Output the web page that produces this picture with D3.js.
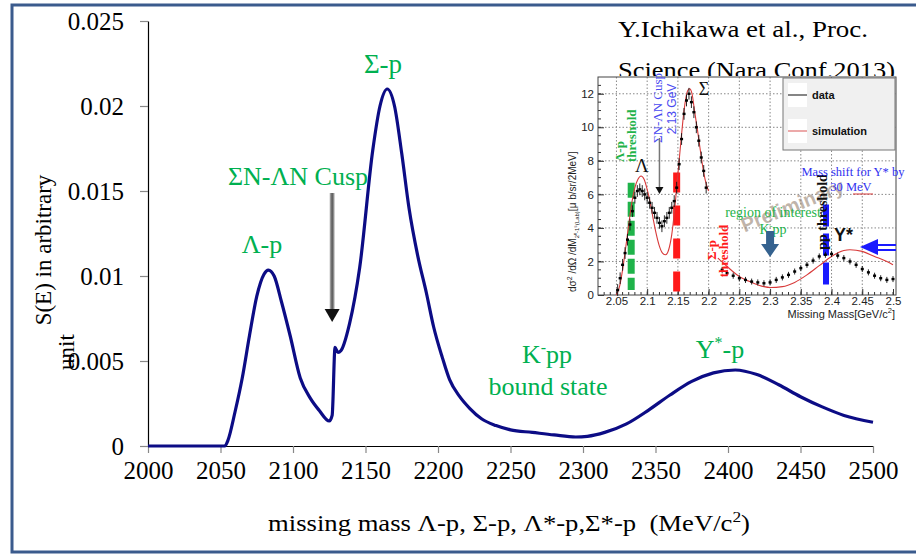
<!DOCTYPE html>
<html>
<head>
<meta charset="utf-8">
<script src="https://cdn.jsdelivr.net/npm/d3@7"></script>
<style>
  html, body { margin: 0; padding: 0; background: #fff; }
  svg { display: block; }
</style>
</head>
<body>
<svg id="chart" width="916" height="556"></svg>
<script>
// ---- Main spectrum: S(E) versus missing mass (MeV/c^2) ----
const massMeV = [2000, 2053, 2055, 2060, 2065, 2070, 2075, 2080, 2083, 2087, 2092, 2098, 2105, 2112,
  2118, 2125, 2127, 2129, 2131, 2133, 2139, 2146, 2155, 2160, 2165, 2170, 2175, 2180, 2186, 2192,
  2197, 2203, 2208, 2215, 2222, 2230, 2240, 2250, 2265, 2280, 2295, 2303, 2315, 2330, 2345, 2360,
  2375, 2390, 2405, 2420, 2435, 2450, 2465, 2480, 2500];
const strength = [0, 0, 0.0003, 0.0020, 0.0040, 0.0065, 0.0088, 0.0101, 0.01035, 0.0100, 0.0085,
  0.0065, 0.0040, 0.0028, 0.0021, 0.00147, 0.0018, 0.0058, 0.0055, 0.0056, 0.0072, 0.0105, 0.0174,
  0.0200, 0.0210, 0.0200, 0.0172, 0.0140, 0.0112, 0.0090, 0.0070, 0.0052, 0.0039, 0.0029, 0.0022,
  0.0016, 0.0012, 0.00095, 0.0008, 0.00065, 0.00053, 0.00057, 0.0008, 0.0013, 0.0021, 0.0030,
  0.0038, 0.0043, 0.00447, 0.0042, 0.0036, 0.0029, 0.0023, 0.0018, 0.0014];

const xTickValues = [2000, 2050, 2100, 2150, 2200, 2250, 2300, 2350, 2400, 2450, 2500];
const xTickLabels = ["2000", "2050", "2100", "2150", "2200", "2250", "2300", "2350", "2400", "2450", "2500"];
const yTickValues = [0, 0.005, 0.01, 0.015, 0.02, 0.025];
const yTickLabels = ["0", "0.005", "0.01", "0.015", "0.02", "0.025"];

// ---- Inset: measured spectrum and simulation (GeV/c^2, ub/sr/2MeV) ----
const simMassA = [2.05, 2.055, 2.06, 2.065, 2.07, 2.075, 2.08, 2.085, 2.09, 2.095, 2.1, 2.105, 2.11,
  2.115, 2.12, 2.125, 2.13, 2.135, 2.14, 2.145, 2.15, 2.155, 2.16, 2.165, 2.169, 2.173, 2.177, 2.182,
  2.187, 2.192, 2.197, 2.2];
const simValA = [0, 0.5, 1.5, 2.8, 4.2, 5.5, 6.4, 6.9, 7.1, 6.9, 6.3, 5.5, 4.5, 3.6, 2.9, 2.5, 2.4,
  2.7, 3.6, 5.2, 7.2, 9.2, 11.0, 12.1, 12.3, 12.0, 11.0, 9.8, 8.5, 7.3, 6.5, 6.2];
const simMassB = [2.215, 2.23, 2.25, 2.27, 2.29, 2.3, 2.32, 2.34, 2.36, 2.38, 2.4, 2.42, 2.43, 2.45,
  2.47, 2.49, 2.5];
const simValB = [2.2, 1.7, 1.1, 0.75, 0.5, 0.45, 0.5, 0.75, 1.2, 1.75, 2.3, 2.65, 2.7, 2.6, 2.3, 2.0, 1.8];

const dataMassA = [2.052, 2.056, 2.06, 2.064, 2.068, 2.072, 2.076, 2.08, 2.084, 2.088, 2.092, 2.096,
  2.1, 2.104, 2.108, 2.112, 2.116, 2.12, 2.124, 2.128, 2.132, 2.136, 2.14, 2.144, 2.148, 2.152, 2.156,
  2.16, 2.164, 2.168, 2.172, 2.176, 2.18, 2.184, 2.188, 2.192, 2.196];
const dataValA = [0.3, 1.0, 1.8, 2.5, 3.3, 4.2, 5.0, 5.8, 6.2, 6.3, 6.2, 6.0, 5.8, 5.5, 5.2, 4.9, 4.6,
  4.3, 4.1, 4.4, 4.6, 4.9, 5.2, 5.6, 6.4, 7.8, 9.3, 10.8, 11.6, 12.0, 11.5, 10.9, 10.0, 9.2, 8.2, 7.4, 6.4];
const dataMassB = [2.222, 2.23, 2.24, 2.25, 2.26, 2.27, 2.28, 2.29, 2.3, 2.31, 2.32, 2.33, 2.34, 2.35,
  2.36, 2.37, 2.38, 2.39, 2.4, 2.41, 2.42, 2.43, 2.44, 2.45, 2.46, 2.47, 2.48, 2.49, 2.5];
const dataValB = [1.5, 1.3, 1.15, 1.0, 0.9, 0.8, 0.75, 0.7, 0.75, 0.9, 1.05, 1.2, 1.4, 1.6, 1.8, 2.05,
  2.3, 2.4, 2.45, 2.35, 2.2, 2.0, 1.8, 1.55, 1.35, 1.15, 1.0, 0.9, 0.95];
const dataErrA = 0.35;
const dataErrB = 0.18;

const insetXTicks = [2.05, 2.1, 2.15, 2.2, 2.25, 2.3, 2.35, 2.4, 2.45, 2.5];
const insetXLabels = ["2.05", "2.1", "2.15", "2.2", "2.25", "2.3", "2.35", "2.4", "2.45", "2.5"];
const insetYTicks = [0, 2, 4, 6, 8, 10, 12];
const insetYLabels = ["0", "2", "4", "6", "8", "10", "12"];

// threshold markers in the inset (GeV/c^2)
const lambdaThreshold = 2.074;
const sigmaThreshold = 2.148;
const ppThreshold = 2.391;
const cuspMass = 2.12;
const kppMass = 2.30;

const SERIF = "'Liberation Serif', 'Times New Roman', serif";
const SANS = "'Liberation Sans', Arial, sans-serif";
const GREEN = "#00b050";

const svg = d3.select("#chart");

// page frame
svg.append("path")
  .attr("d", "M916,5H12V552H916")
  .attr("fill", "none").attr("stroke", "#3b5b8d").attr("stroke-width", 3);

// ---------------- main chart ----------------
const x = d3.scaleLinear().domain([2000, 2500]).range([148, 873]);
const y = d3.scaleLinear().domain([0, 0.025]).range([446, 21]);

const yAxis = svg.append("g").attr("transform", "translate(148,0)")
  .call(d3.axisLeft(y).tickValues(yTickValues).tickSize(8).tickSizeOuter(0).tickPadding(16)
    .tickFormat((d, i) => yTickLabels[i]));
yAxis.select(".domain").attr("stroke", "#000").attr("stroke-width", 1.2);
yAxis.selectAll(".tick line").attr("stroke", "#888").attr("stroke-width", 1.2);
yAxis.selectAll(".tick text").attr("font-family", SERIF).attr("font-size", 25).attr("fill", "#000");

const xAxis = svg.append("g").attr("transform", "translate(0,446)")
  .call(d3.axisBottom(x).tickValues(xTickValues).tickSize(7).tickSizeOuter(0).tickPadding(8)
    .tickFormat((d, i) => xTickLabels[i]));
xAxis.select(".domain").attr("stroke", "#000").attr("stroke-width", 1.2);
xAxis.selectAll(".tick line").attr("stroke", "#888").attr("stroke-width", 1.2);
xAxis.selectAll(".tick text").attr("font-family", SERIF).attr("font-size", 25).attr("fill", "#000");

// spectrum curve
const line = d3.line().x((d, i) => x(massMeV[i])).y(d => y(d)).curve(d3.curveMonotoneX);
svg.append("path").datum(strength)
  .attr("d", line)
  .attr("fill", "none").attr("stroke", "#0c0c85").attr("stroke-width", 3.2)
  .attr("stroke-linejoin", "round");

// axis titles
svg.append("text").attr("transform", "translate(51,250) rotate(-90)")
  .attr("text-anchor", "middle").attr("font-family", SERIF).attr("font-size", 23)
  .text("S(E) in arbitrary");
svg.append("text").attr("transform", "translate(74,352) rotate(-90)")
  .attr("text-anchor", "middle").attr("font-family", SERIF).attr("font-size", 23)
  .text("unit");

const xTitle = svg.append("text").attr("x", 268).attr("y", 531)
  .attr("font-family", SERIF).attr("font-size", 23)
  .attr("textLength", 482).attr("lengthAdjust", "spacingAndGlyphs");
xTitle.append("tspan").text("missing mass \u039B-p, \u03A3-p, \u039B*-p,\u03A3*-p\u00A0\u00A0(MeV/c");
xTitle.append("tspan").attr("font-size", 15).attr("dy", -9).text("2");
xTitle.append("tspan").attr("dy", 9).text(")");

// peak annotations
function greenLabel(px, py, parts, size) {
  const t = svg.append("text").attr("x", px).attr("y", py).attr("text-anchor", "middle")
    .attr("font-family", SERIF).attr("font-size", size || 26).attr("fill", GREEN);
  parts.forEach(p => {
    const s = t.append("tspan").text(p.t);
    if (p.sup) s.attr("font-size", 16).attr("dy", -10);
    if (p.down) s.attr("dy", 10);
  });
  return t;
}
greenLabel(262, 253, [{ t: "\u039B-p" }]);
greenLabel(298, 185, [{ t: "\u03A3N-\u039BN Cusp" }]);
greenLabel(383, 73, [{ t: "\u03A3-p" }], 27);
greenLabel(547, 363, [{ t: "K" }, { t: "-", sup: true }, { t: "pp", down: true }]);
greenLabel(548, 395, [{ t: "bound state" }]);
greenLabel(720, 358, [{ t: "Y" }, { t: "*", sup: true }, { t: "-p", down: true }]);

// cusp arrow
const cuspX = x(2127);
const arrowGrad = svg.append("defs").append("linearGradient").attr("id", "arrowShaft")
  .attr("x1", 0).attr("x2", 1).attr("y1", 0).attr("y2", 0);
arrowGrad.append("stop").attr("offset", "0%").attr("stop-color", "#bbb");
arrowGrad.append("stop").attr("offset", "50%").attr("stop-color", "#555");
arrowGrad.append("stop").attr("offset", "100%").attr("stop-color", "#bbb");
svg.append("rect").attr("x", cuspX - 2.5).attr("y", 193).attr("width", 5).attr("height", 118)
  .attr("fill", "url(#arrowShaft)");
svg.append("path")
  .attr("d", `M${cuspX - 7.5},309 L${cuspX + 7.5},309 L${cuspX},322 Z`)
  .attr("fill", "#111");

// ---------------- inset ----------------
// citation
svg.append("text").attr("x", 618).attr("y", 37)
  .attr("font-family", SERIF).attr("font-size", 24)
  .attr("textLength", 250).attr("lengthAdjust", "spacingAndGlyphs").text("Y.Ichikawa et al., Proc.");
svg.append("text").attr("x", 618).attr("y", 78)
  .attr("font-family", SERIF).attr("font-size", 24)
  .attr("textLength", 277).attr("lengthAdjust", "spacingAndGlyphs").text("Science (Nara Conf.2013)");

const inset = svg.append("g");
inset.append("rect").attr("x", 563).attr("y", 76).attr("width", 353).attr("height", 244).attr("fill", "#fff");

const xi = d3.scaleLinear().domain([2.02, 2.5]).range([598, 893]);
const yi = d3.scaleLinear().domain([0, 13]).range([295, 77]);
const frame = { l: 598, r: 896, t: 77, b: 295 };

// dotted grid
inset.append("g").selectAll("line").data(insetXTicks.slice(0, -1)).join("line")
  .attr("x1", d => xi(d)).attr("x2", d => xi(d)).attr("y1", frame.t).attr("y2", frame.b)
  .attr("stroke", "#888").attr("stroke-width", 1).attr("stroke-dasharray", "1.5,2");
inset.append("g").selectAll("line").data(insetYTicks.slice(1)).join("line")
  .attr("x1", frame.l).attr("x2", frame.r).attr("y1", d => yi(d)).attr("y2", d => yi(d))
  .attr("stroke", "#888").attr("stroke-width", 1).attr("stroke-dasharray", "1.5,2");

// inset axes
const ixAxis = inset.append("g").attr("transform", `translate(0,${frame.b})`)
  .call(d3.axisBottom(xi).tickValues(insetXTicks).tickSize(-6).tickSizeOuter(0).tickPadding(2)
    .tickFormat((d, i) => insetXLabels[i]));
const iyAxis = inset.append("g").attr("transform", `translate(${frame.l},0)`)
  .call(d3.axisLeft(yi).tickValues(insetYTicks).tickSize(-6).tickSizeOuter(0).tickPadding(4)
    .tickFormat((d, i) => insetYLabels[i]));
[ixAxis, iyAxis].forEach(a => {
  a.select(".domain").remove();
  a.selectAll(".tick line").attr("stroke", "#333");
  a.selectAll(".tick text").attr("font-family", SANS).attr("font-size", 11.5).attr("fill", "#222");
});
// minor ticks
inset.append("g").selectAll("line").data(d3.range(2.03, 2.5, 0.01)).join("line")
  .attr("x1", d => xi(d)).attr("x2", d => xi(d)).attr("y1", frame.b).attr("y2", frame.b - 3)
  .attr("stroke", "#333");
inset.append("g").selectAll("line").data(d3.range(0.5, 13, 0.5)).join("line")
  .attr("x1", frame.l).attr("x2", frame.l + 3).attr("y1", d => yi(d)).attr("y2", d => yi(d))
  .attr("stroke", "#333");

inset.append("rect").attr("x", frame.l).attr("y", frame.t)
  .attr("width", frame.r - frame.l).attr("height", frame.b - frame.t)
  .attr("fill", "none").attr("stroke", "#444").attr("stroke-width", 1);

// inset axis titles
const iyTitle = inset.append("text").attr("transform", "translate(576,292) rotate(-90)")
  .attr("font-family", SANS).attr("font-size", 10).attr("fill", "#222");
iyTitle.append("tspan").text("d\u03C3");
iyTitle.append("tspan").attr("font-size", 7).attr("dy", -4).text("2");
iyTitle.append("tspan").attr("dy", 4).text(" /d\u03A9 /dM");
iyTitle.append("tspan").attr("font-size", 6).attr("dy", 3).text("2\u2070-1\u2075(Lab)");
iyTitle.append("tspan").attr("dy", -3).text("[\u03BC b/sr/2MeV]");

const ixTitle = inset.append("text").attr("x", 895).attr("y", 318).attr("text-anchor", "end")
  .attr("font-family", SANS).attr("font-size", 11).attr("fill", "#222");
ixTitle.append("tspan").text("Missing Mass[GeV/c");
ixTitle.append("tspan").attr("font-size", 7.5).attr("dy", -5).text("2");
ixTitle.append("tspan").attr("dy", 5).text("]");

// threshold dashed bars
function dashBar(xv, y0, y1, color, width, dash) {
  inset.append("line").attr("x1", xi(xv)).attr("x2", xi(xv)).attr("y1", yi(y1)).attr("y2", yi(y0))
    .attr("stroke", color).attr("stroke-width", width).attr("stroke-dasharray", dash);
}
dashBar(lambdaThreshold, 0.3, 6.7, "#1fb34a", 7, "15,4");
dashBar(sigmaThreshold, 0.1, 7.3, "#ff1a1a", 7, "20,13");
dashBar(ppThreshold, 0.3, 5.4, "#1a1aff", 6, "22,7");

// simulation curves
const simLine = d3.line().x(d => xi(d[0])).y(d => yi(d[1])).curve(d3.curveMonotoneX);
[[simMassA, simValA], [simMassB, simValB]].forEach(([m, v]) => {
  inset.append("path").datum(m.map((mm, i) => [mm, v[i]]))
    .attr("d", simLine).attr("fill", "none").attr("stroke", "#d83a3a").attr("stroke-width", 1.1);
});

// measured points with error bars
[[dataMassA, dataValA, dataErrA], [dataMassB, dataValB, dataErrB]].forEach(([m, v, e]) => {
  const pts = m.map((mm, i) => [mm, v[i]]);
  const g = inset.append("g");
  g.selectAll("line").data(pts).join("line")
    .attr("x1", d => xi(d[0])).attr("x2", d => xi(d[0]))
    .attr("y1", d => yi(d[1] + e)).attr("y2", d => yi(d[1] - e))
    .attr("stroke", "#111").attr("stroke-width", 0.9);
  g.selectAll("rect").data(pts).join("rect")
    .attr("x", d => xi(d[0]) - 1.5).attr("y", d => yi(d[1]) - 1.2)
    .attr("width", 3).attr("height", 2.4).attr("fill", "#000");
});

// legend
inset.append("rect").attr("x", 783).attr("y", 78).attr("width", 112).attr("height", 72)
  .attr("fill", "#f0f0f0").attr("stroke", "#777").attr("stroke-width", 1);
[["data", "#333", 95], ["simulation", "#e07070", 131]].forEach(([label, col, ly]) => {
  inset.append("rect").attr("x", 788).attr("y", ly - 12).attr("width", 19).attr("height", 24).attr("fill", "#fff");
  inset.append("line").attr("x1", 788).attr("x2", 807).attr("y1", ly).attr("y2", ly)
    .attr("stroke", col).attr("stroke-width", 1.2);
  inset.append("text").attr("x", 812).attr("y", ly + 4).attr("font-family", SANS)
    .attr("font-size", 11).attr("font-weight", "bold").attr("fill", "#111").text(label);
});

// watermark
inset.append("text").attr("transform", "translate(795,212) rotate(-22)")
  .attr("text-anchor", "middle").attr("font-family", SANS).attr("font-size", 20)
  .attr("font-weight", "bold").attr("fill", "rgba(150,130,112,0.6)").text("Preliminary");

// rotated inset notes
function vText(px, py, txt, color, size, opts) {
  const t = inset.append("text").attr("transform", `translate(${px},${py}) rotate(-90)`)
    .attr("text-anchor", (opts && opts.anchor) || "middle")
    .attr("font-family", (opts && opts.family) || SERIF).attr("font-size", size)
    .attr("font-weight", (opts && opts.weight) || "normal").attr("fill", color).text(txt);
  return t;
}
vText(624, 162, "\u039B-p", "#1fb34a", 13, { anchor: "start", weight: "bold" });
vText(636, 162, "threshold", "#1fb34a", 13, { anchor: "start", weight: "bold" });
vText(662, 108, "\u03A3N-\u039BN Cusp", "#4a4af0", 13);
vText(676, 109, "2.13 GeV", "#4a4af0", 12, { family: SANS });
vText(716, 250, "\u03A3-p", "#ff1a1a", 13, { weight: "bold" });
vText(728, 251, "threshold", "#ff1a1a", 13, { weight: "bold" });
vText(827, 212, "pp threshold", "#111", 14, { weight: "bold" });

// cusp pointer in inset
inset.append("line").attr("x1", xi(cuspMass)).attr("x2", xi(cuspMass))
  .attr("y1", 138).attr("y2", 188).attr("stroke", "#777").attr("stroke-width", 1.5);
inset.append("path")
  .attr("d", `M${xi(cuspMass) - 4},187 L${xi(cuspMass) + 4},187 L${xi(cuspMass)},194 Z`).attr("fill", "#111");

// peak symbols
inset.append("text").attr("x", 642).attr("y", 172).attr("text-anchor", "middle")
  .attr("font-family", SERIF).attr("font-size", 19).attr("fill", "#111").text("\u039B");
inset.append("text").attr("x", 704).attr("y", 95).attr("text-anchor", "middle")
  .attr("font-family", SERIF).attr("font-size", 18).attr("fill", "#111").text("\u03A3");
inset.append("text").attr("x", 834).attr("y", 241)
  .attr("font-family", SANS).attr("font-size", 18).attr("font-weight", "bold").attr("fill", "#111").text("Y*");

// region of interest
inset.append("text").attr("x", 773).attr("y", 217).attr("text-anchor", "middle")
  .attr("font-family", SERIF).attr("font-size", 14).attr("fill", "#1fb34a").text("region of interest");
const kpp = inset.append("text").attr("x", 773).attr("y", 234).attr("text-anchor", "middle")
  .attr("font-family", SERIF).attr("font-size", 14).attr("fill", "#1fb34a");
kpp.append("tspan").text("K");
kpp.append("tspan").attr("font-size", 9).attr("dy", -5).text("-");
kpp.append("tspan").attr("dy", 5).text("pp");
const kx = xi(kppMass);
inset.append("path")
  .attr("d", `M${kx - 4},231 H${kx + 4} V244 H${kx + 9} L${kx},257 L${kx - 9},244 H${kx - 4} Z`)
  .attr("fill", "#35628f");

// Y* mass shift
inset.append("text").attr("x", 853).attr("y", 176).attr("text-anchor", "middle")
  .attr("font-family", SERIF).attr("font-size", 12.5).attr("fill", "#3030f0").text("Mass shift for Y* by");
inset.append("text").attr("x", 851).attr("y", 191).attr("text-anchor", "middle")
  .attr("font-family", SERIF).attr("font-size", 12.5).attr("fill", "#3030f0").text("30 MeV");
inset.append("line").attr("x1", 853).attr("x2", 873).attr("y1", 194).attr("y2", 194)
  .attr("stroke", "#d83a3a").attr("stroke-width", 1);
inset.append("path")
  .attr("d", "M860,247 L878,239 L878,255 Z").attr("fill", "#1a1aff");
inset.append("line").attr("x1", 876).attr("x2", 896).attr("y1", 245).attr("y2", 245)
  .attr("stroke", "#1a1aff").attr("stroke-width", 2);
inset.append("line").attr("x1", 876).attr("x2", 896).attr("y1", 250).attr("y2", 250)
  .attr("stroke", "#1a1aff").attr("stroke-width", 2);
</script>
</body>
</html>
